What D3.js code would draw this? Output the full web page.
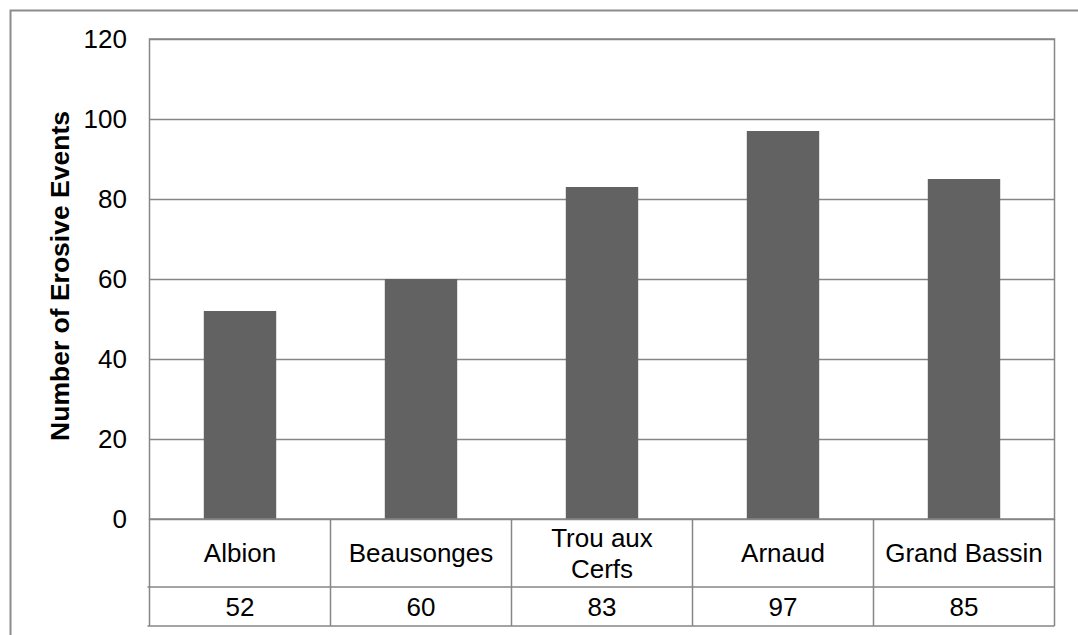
<!DOCTYPE html>
<html>
<head>
<meta charset="utf-8">
<script src="https://cdn.jsdelivr.net/npm/d3@7"></script>
<style>
  html, body { margin: 0; padding: 0; background: #fff; }
  svg { display: block; }
  text { font-family: "Liberation Sans", Arial, sans-serif; fill: #000; }
</style>
</head>
<body>
<svg id="chart" width="1078" height="635"></svg>
<script>
const categories = ["Albion", "Beausonges", "Trou aux Cerfs", "Arnaud", "Grand Bassin"];
const categoryLines = [["Albion"], ["Beausonges"], ["Trou aux", "Cerfs"], ["Arnaud"], ["Grand Bassin"]];
const values = [52, 60, 83, 97, 85];
const yTicks = [0, 20, 40, 60, 80, 100, 120];
const yTitle = "Number of Erosive Events";

(function () {
const svg = d3.select("#chart");
const pLeft = 149.5, pRight = 1054.5, pTop = 39, pBottom = 519;
const row1 = 587, row2 = 626;
const gridColor = "#868686";

// outer frame
svg.append("rect").attr("x", 10.5).attr("y", 10.5).attr("width", 1200).attr("height", 800)
  .attr("fill", "none").attr("stroke", "#8c8c8c").attr("stroke-width", 2);

const x = d3.scaleBand().domain(categories).range([pLeft, pRight]).padding(0);
const y = d3.scaleLinear().domain([0, 120]).range([pBottom, pTop]);

// gridlines
svg.append("g").selectAll("line").data(yTicks).join("line")
  .attr("x1", pLeft).attr("x2", pRight)
  .attr("y1", d => Math.round(y(d)) + 0.5).attr("y2", d => Math.round(y(d)) + 0.5)
  .attr("stroke", gridColor).attr("stroke-width", 1.5);

// bars
const bw = x.bandwidth() * 0.4;
svg.append("g").selectAll("rect").data(values).join("rect")
  .attr("x", (d, i) => x(categories[i]) + x.bandwidth() / 2 - bw / 2)
  .attr("width", bw)
  .attr("y", d => y(d))
  .attr("height", d => y(0) - y(d))
  .attr("fill", "#626262");

// plot border
svg.append("rect").attr("x", pLeft).attr("y", pTop).attr("width", pRight - pLeft).attr("height", pBottom - pTop)
  .attr("fill", "none").attr("stroke", gridColor).attr("stroke-width", 1.5);

// y tick labels
svg.append("g").selectAll("text").data(yTicks).join("text")
  .attr("x", 127).attr("y", d => y(d)).attr("dy", "0.35em")
  .attr("text-anchor", "end").style("font-size", "26px")
  .text(d => d);

// y title
svg.append("text")
  .attr("transform", `translate(69, ${(pTop + pBottom) / 2 - 3}) rotate(-90)`)
  .attr("text-anchor", "middle").style("font-size", "26.5px").style("font-weight", "bold")
  .text(yTitle);

// data table
const tbl = svg.append("g");
[row1, row2].forEach(yy => {
  tbl.append("line").attr("x1", pLeft - 2).attr("x2", pRight).attr("y1", yy).attr("y2", yy)
    .attr("stroke", gridColor).attr("stroke-width", 1.5);
});
tbl.append("line").attr("x1", pLeft).attr("x2", pLeft).attr("y1", pBottom).attr("y2", row2)
  .attr("stroke", gridColor).attr("stroke-width", 1.5);
categories.forEach(c => {
  const xe = x(c) + x.bandwidth();
  tbl.append("line").attr("x1", xe).attr("x2", xe).attr("y1", pBottom).attr("y2", row2)
    .attr("stroke", gridColor).attr("stroke-width", 1.5);
});
categoryLines.forEach((lines, i) => {
  const cx = x(categories[i]) + x.bandwidth() / 2;
  const cy = (pBottom + row1) / 2;
  const lh = 31;
  lines.forEach((ln, j) => {
    tbl.append("text").attr("x", cx)
      .attr("y", cy + (j - (lines.length - 1) / 2) * lh).attr("dy", "0.35em")
      .attr("text-anchor", "middle").style("font-size", "26px").text(ln);
  });
});
values.forEach((v, i) => {
  tbl.append("text").attr("x", x(categories[i]) + x.bandwidth() / 2)
    .attr("y", (row1 + row2) / 2).attr("dy", "0.35em")
    .attr("text-anchor", "middle").style("font-size", "26px").text(v);
});
})();
</script>
</body>
</html>
